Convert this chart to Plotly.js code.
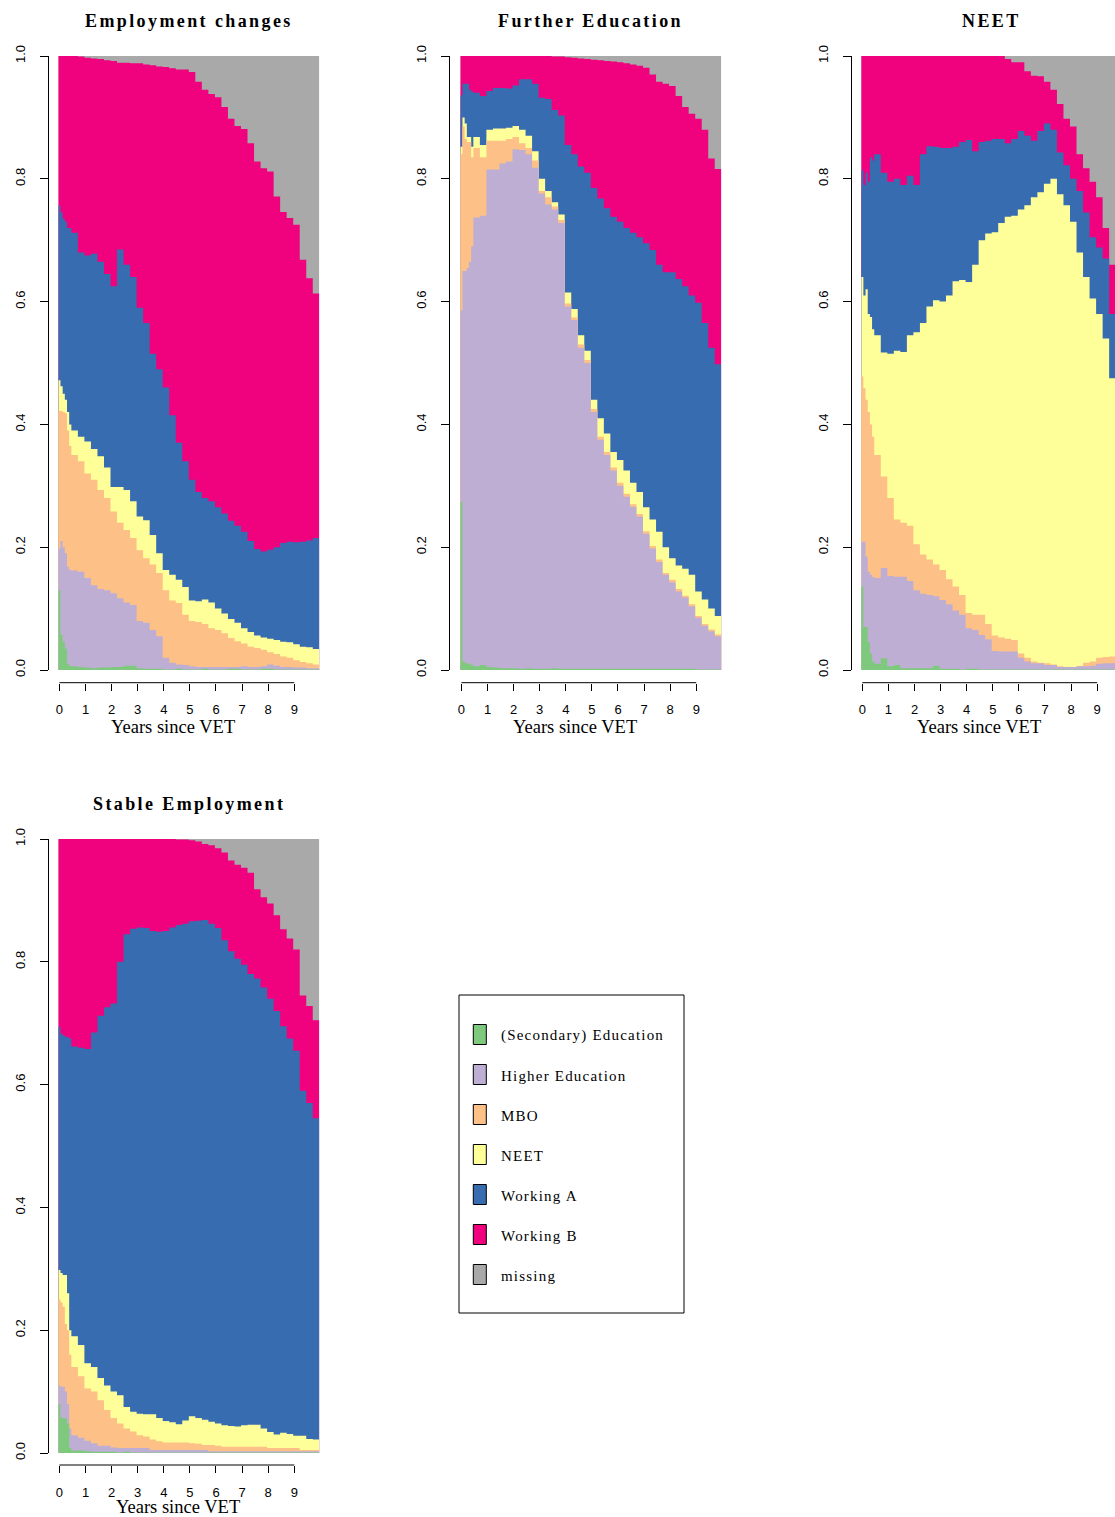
<!DOCTYPE html>
<html>
<head>
<meta charset="utf-8">
<script src="https://cdn.plot.ly/plotly-3.0.1.min.js"></script>
<style>
  html, body { margin: 0; padding: 0; overflow: hidden; background: #ffffff; }
</style>
</head>
<body>
<div id="chart"></div>
<script>
// ---- time grid: start month of each step (monthly at first, then quarterly) ----
const months = [0, 1, 2, 3, 4, 5, 6, 9, 12, 15, 18, 21, 24, 27, 30, 33, 36, 39, 42, 45,
  48, 51, 54, 57, 60, 63, 66, 69, 72, 75, 78, 81, 84, 87, 90, 93, 96, 99, 102, 105,
  108, 111, 114, 117];
const monthEnd = 120;
const yearTicks = [0, 1, 2, 3, 4, 5, 6, 7, 8, 9];
const shareTicks = [0, 0.2, 0.4, 0.6, 0.8, 1];

// ---- states and colours ----
const states = ['(Secondary) Education', 'Higher Education', 'MBO', 'NEET', 'Working A', 'Working B', 'missing'];
const stateColors = ['#7FC97F', '#BEAED4', '#FDC086', '#FFFF99', '#386CB0', '#F0027F', '#A9A9A9'];

// Each array: cumulative share at the upper edge of that state's band
// (states stacked bottom-up in the order above; "missing" fills up to 1).

// Employment changes
const empChg_edu = [0.13, 0.057, 0.046, 0.035, 0.01, 0.006,
  0.006, 0.005, 0.004, 0.003, 0.004, 0.004, 0.005, 0.005, 0.007, 0.007,
  0.003, 0.002, 0.002, 0.002, 0.001, 0.001, 0.002, 0.001, 0.001, 0.001,
  0.002, 0.001, 0.001, 0.001, 0.002, 0.002, 0.001, 0.001, 0.001, 0.002,
  0.002, 0.001, 0.001, 0.001, 0.001, 0.001, 0.001, 0.001];
const empChg_higher = [0.198, 0.21, 0.2, 0.19, 0.168, 0.163,
  0.162, 0.16, 0.15, 0.138, 0.132, 0.13, 0.125, 0.117, 0.11, 0.106,
  0.08, 0.077, 0.065, 0.055, 0.02, 0.012, 0.009, 0.008, 0.006, 0.005,
  0.005, 0.005, 0.005, 0.005, 0.005, 0.005, 0.006, 0.005, 0.005, 0.006,
  0.009, 0.007, 0.005, 0.005, 0.004, 0.004, 0.003, 0.003];
const empChg_mbo = [0.422, 0.422, 0.42, 0.418, 0.39, 0.365,
  0.35, 0.34, 0.32, 0.31, 0.293, 0.28, 0.258, 0.24, 0.228, 0.215,
  0.195, 0.182, 0.172, 0.158, 0.13, 0.113, 0.109, 0.09, 0.08, 0.078,
  0.075, 0.068, 0.065, 0.06, 0.052, 0.047, 0.043, 0.038, 0.036, 0.033,
  0.029, 0.026, 0.022, 0.02, 0.016, 0.013, 0.011, 0.009];
const empChg_neet = [0.472, 0.462, 0.45, 0.44, 0.42, 0.4,
  0.39, 0.38, 0.372, 0.36, 0.348, 0.33, 0.298, 0.298, 0.293, 0.275,
  0.25, 0.244, 0.22, 0.19, 0.163, 0.155, 0.147, 0.135, 0.113, 0.112,
  0.115, 0.11, 0.1, 0.092, 0.083, 0.077, 0.068, 0.062, 0.056, 0.053,
  0.051, 0.049, 0.046, 0.045, 0.042, 0.038, 0.037, 0.034];
const empChg_workA = [0.756, 0.745, 0.735, 0.73, 0.72, 0.72,
  0.712, 0.68, 0.675, 0.678, 0.665, 0.645, 0.625, 0.685, 0.66, 0.64,
  0.59, 0.565, 0.515, 0.49, 0.46, 0.415, 0.37, 0.34, 0.31, 0.29,
  0.28, 0.275, 0.265, 0.255, 0.243, 0.235, 0.225, 0.21, 0.197, 0.193,
  0.196, 0.2, 0.207, 0.209, 0.208, 0.209, 0.211, 0.215];
const empChg_workB = [1, 1, 1, 1, 1, 1,
  1.0, 0.999, 0.997, 0.996, 0.995, 0.993, 0.992, 0.989, 0.989, 0.988,
  0.988, 0.986, 0.985, 0.983, 0.982, 0.98, 0.978, 0.978, 0.974, 0.958,
  0.945, 0.938, 0.933, 0.917, 0.898, 0.886, 0.881, 0.858, 0.828, 0.817,
  0.812, 0.771, 0.746, 0.736, 0.725, 0.668, 0.638, 0.613];

// Further Education
const furtherEdu_edu = [0.274, 0.014, 0.012, 0.01, 0.01, 0.008,
  0.006, 0.008, 0.005, 0.004, 0.003, 0.003, 0.003, 0.002, 0.003, 0.002,
  0.002, 0.002, 0.003, 0.002, 0.002, 0.002, 0.002, 0.002, 0.002, 0.002,
  0.002, 0.002, 0.002, 0.002, 0.002, 0.002, 0.002, 0.002, 0.002, 0.002,
  0.002, 0.002, 0.002, 0.002, 0.001, 0.001, 0.001, 0.001];
const furtherEdu_higher = [0.586, 0.65, 0.65, 0.655, 0.665, 0.69,
  0.737, 0.74, 0.815, 0.815, 0.825, 0.828, 0.848, 0.847, 0.84, 0.818,
  0.776, 0.758, 0.75, 0.728, 0.592, 0.57, 0.525, 0.5, 0.42, 0.375,
  0.35, 0.325, 0.3, 0.282, 0.266, 0.25, 0.222, 0.198, 0.176, 0.155,
  0.143, 0.128, 0.118, 0.104, 0.085, 0.072, 0.063, 0.055];
const furtherEdu_mbo = [0.84, 0.885, 0.865, 0.86, 0.86, 0.835,
  0.85, 0.835, 0.862, 0.862, 0.862, 0.865, 0.868, 0.858, 0.85, 0.83,
  0.78, 0.77, 0.755, 0.733, 0.597, 0.574, 0.53, 0.505, 0.425, 0.38,
  0.355, 0.33, 0.305, 0.287, 0.27, 0.254, 0.226, 0.202, 0.18, 0.158,
  0.147, 0.132, 0.121, 0.107, 0.088, 0.075, 0.066, 0.058];
const furtherEdu_neet = [0.852, 0.9, 0.89, 0.868, 0.868, 0.852,
  0.868, 0.855, 0.88, 0.882, 0.882, 0.883, 0.886, 0.88, 0.87, 0.845,
  0.8, 0.78, 0.762, 0.742, 0.615, 0.588, 0.545, 0.52, 0.44, 0.41,
  0.385, 0.355, 0.342, 0.325, 0.305, 0.29, 0.265, 0.245, 0.225, 0.2,
  0.182, 0.17, 0.165, 0.155, 0.128, 0.115, 0.1, 0.088];
const furtherEdu_workA = [0.936, 0.955, 0.955, 0.955, 0.945, 0.942,
  0.94, 0.935, 0.943, 0.948, 0.948, 0.947, 0.952, 0.962, 0.962, 0.955,
  0.932, 0.93, 0.912, 0.903, 0.855, 0.84, 0.82, 0.81, 0.785, 0.768,
  0.752, 0.738, 0.73, 0.72, 0.712, 0.705, 0.695, 0.684, 0.66, 0.648,
  0.648, 0.637, 0.625, 0.61, 0.598, 0.565, 0.525, 0.498];
const furtherEdu_workB = [1, 1, 1, 1, 1, 1,
  1, 1, 1, 1, 1, 1, 1, 1, 1, 1,
  1, 1, 0.999, 0.999, 0.998, 0.997, 0.996, 0.995, 0.994, 0.993,
  0.992, 0.991, 0.99, 0.988, 0.986, 0.984, 0.981, 0.97, 0.958, 0.955,
  0.951, 0.935, 0.917, 0.906, 0.898, 0.88, 0.833, 0.816];

// NEET
const neetPath_edu = [0.136, 0.07, 0.07, 0.046, 0.027, 0.014,
  0.01, 0.019, 0.006, 0.008, 0.003, 0.003, 0.003, 0.003, 0.003, 0.007,
  0.002, 0.002, 0.002, 0.001, 0.002, 0.002, 0.001, 0.001, 0.001, 0.001,
  0.001, 0.001, 0.001, 0.001, 0.001, 0.001, 0.001, 0.001, 0.001, 0.001,
  0.001, 0.001, 0.001, 0.001, 0.001, 0.001, 0.001, 0.001];
const neetPath_higher = [0.209, 0.209, 0.185, 0.16, 0.155, 0.152,
  0.15, 0.166, 0.153, 0.152, 0.152, 0.145, 0.13, 0.124, 0.122, 0.12,
  0.114, 0.107, 0.097, 0.09, 0.068, 0.065, 0.057, 0.05, 0.031, 0.03,
  0.03, 0.03, 0.02, 0.014, 0.011, 0.011, 0.008, 0.008, 0.005, 0.005,
  0.005, 0.006, 0.006, 0.007, 0.01, 0.011, 0.011, 0.011];
const neetPath_mbo = [0.478, 0.459, 0.44, 0.42, 0.4, 0.38,
  0.35, 0.315, 0.28, 0.245, 0.24, 0.235, 0.205, 0.188, 0.18, 0.172,
  0.163, 0.148, 0.136, 0.122, 0.093, 0.09, 0.09, 0.075, 0.056, 0.053,
  0.051, 0.049, 0.027, 0.02, 0.014, 0.012, 0.011, 0.009, 0.006, 0.005,
  0.005, 0.006, 0.012, 0.014, 0.02, 0.021, 0.022, 0.022];
const neetPath_neet = [0.64, 0.61, 0.62, 0.58, 0.575, 0.555,
  0.545, 0.517, 0.515, 0.52, 0.518, 0.545, 0.55, 0.565, 0.592, 0.602,
  0.6, 0.61, 0.633, 0.635, 0.632, 0.66, 0.7, 0.711, 0.713, 0.728,
  0.738, 0.74, 0.75, 0.757, 0.77, 0.778, 0.792, 0.8, 0.775, 0.757,
  0.73, 0.68, 0.64, 0.605, 0.58, 0.54, 0.475, 0.46];
const neetPath_workA = [0.814, 0.79, 0.81, 0.795, 0.835, 0.83,
  0.84, 0.81, 0.795, 0.8, 0.79, 0.805, 0.79, 0.84, 0.853, 0.852,
  0.85, 0.85, 0.852, 0.86, 0.863, 0.845, 0.86, 0.862, 0.865, 0.865,
  0.858, 0.865, 0.878, 0.87, 0.862, 0.878, 0.89, 0.88, 0.843, 0.822,
  0.8, 0.78, 0.745, 0.705, 0.688, 0.67, 0.58, 0.56];
const neetPath_workB = [1, 1, 1, 1, 1, 1,
  1, 1, 1, 1, 1, 1, 1, 1, 1, 1,
  1, 1, 1, 1, 1, 1, 1, 1, 1, 1,
  0.995, 0.99, 0.99, 0.975, 0.968, 0.967, 0.958, 0.945, 0.922, 0.898,
  0.885, 0.84, 0.817, 0.795, 0.77, 0.72, 0.66, 0.64];

// Stable Employment
const stableEmp_edu = [0.08, 0.058, 0.057, 0.056, 0.048, 0.008,
  0.004, 0.004, 0.003, 0.002, 0.002, 0.002, 0.002, 0.001, 0.002, 0.001,
  0.001, 0.001, 0.001, 0.001, 0.001, 0.001, 0.001, 0.001, 0.001, 0.001,
  0.001, 0.001, 0.001, 0.001, 0.001, 0.001, 0.001, 0.001, 0.001, 0.001,
  0.001, 0.001, 0.001, 0.001, 0.001, 0.001, 0.001, 0.001];
const stableEmp_higher = [0.11, 0.108, 0.108, 0.1, 0.08, 0.04,
  0.029, 0.025, 0.02, 0.016, 0.012, 0.012, 0.009, 0.008, 0.008, 0.008,
  0.008, 0.008, 0.005, 0.005, 0.005, 0.005, 0.005, 0.005, 0.005, 0.005,
  0.005, 0.003, 0.003, 0.003, 0.003, 0.003, 0.003, 0.003, 0.003, 0.003,
  0.003, 0.003, 0.003, 0.003, 0.003, 0.003, 0.003, 0.003];
const stableEmp_mbo = [0.25, 0.245, 0.238, 0.21, 0.2, 0.16,
  0.14, 0.125, 0.105, 0.1, 0.086, 0.07, 0.057, 0.048, 0.04, 0.035,
  0.029, 0.027, 0.022, 0.019, 0.017, 0.017, 0.017, 0.017, 0.016, 0.015,
  0.013, 0.013, 0.012, 0.01, 0.01, 0.01, 0.01, 0.01, 0.01, 0.01,
  0.008, 0.008, 0.008, 0.008, 0.008, 0.005, 0.005, 0.005];
const stableEmp_neet = [0.298, 0.293, 0.29, 0.29, 0.26, 0.2,
  0.19, 0.176, 0.146, 0.14, 0.122, 0.11, 0.1, 0.094, 0.075, 0.067,
  0.064, 0.063, 0.063, 0.057, 0.052, 0.05, 0.047, 0.053, 0.06, 0.057,
  0.054, 0.051, 0.048, 0.045, 0.044, 0.043, 0.045, 0.046, 0.046, 0.04,
  0.034, 0.03, 0.033, 0.031, 0.028, 0.028, 0.023, 0.022];
const stableEmp_workA = [0.694, 0.683, 0.68, 0.678, 0.677, 0.675,
  0.662, 0.66, 0.658, 0.685, 0.712, 0.726, 0.732, 0.8, 0.845, 0.854,
  0.856, 0.855, 0.85, 0.849, 0.85, 0.856, 0.86, 0.862, 0.866, 0.867,
  0.868, 0.862, 0.855, 0.835, 0.817, 0.805, 0.795, 0.78, 0.773, 0.758,
  0.74, 0.72, 0.695, 0.675, 0.655, 0.59, 0.57, 0.545];
const stableEmp_workB = [1, 1, 1, 1, 1, 1,
  1, 1, 1, 1, 1, 1, 1, 1, 1, 1,
  1, 1, 1, 1, 1, 1, 0.999, 0.999, 0.998, 0.996,
  0.992, 0.99, 0.985, 0.978, 0.965, 0.958, 0.953, 0.945, 0.918, 0.905,
  0.895, 0.876, 0.853, 0.838, 0.82, 0.745, 0.728, 0.705];

// ---- page geometry (pixels) ----
const W = 1130, H = 1517;
const PLOT_W = 261, PLOT_H = 614;
const fx = px => px / W;
const fy = py => 1 - py / H;

const panels = [
  { title: 'Employment changes', levels: [empChg_edu, empChg_higher, empChg_mbo, empChg_neet, empChg_workA, empChg_workB],
    left: 58.3, top: 56, yAxisX: 48.3, xAxisY: 682.7, xlabX: 173.3, xlabY: 727 },
  { title: 'Further Education', levels: [furtherEdu_edu, furtherEdu_higher, furtherEdu_mbo, furtherEdu_neet, furtherEdu_workA, furtherEdu_workB],
    left: 460.3, top: 56, yAxisX: 449.3, xAxisY: 682.7, xlabX: 575.3, xlabY: 727 },
  { title: 'NEET', levels: [neetPath_edu, neetPath_higher, neetPath_mbo, neetPath_neet, neetPath_workA, neetPath_workB],
    left: 861.2, top: 56, yAxisX: 851, xAxisY: 682.7, xlabX: 978.8, xlabY: 727 },
  { title: 'Stable Employment', levels: [stableEmp_edu, stableEmp_higher, stableEmp_mbo, stableEmp_neet, stableEmp_workA, stableEmp_workB],
    left: 58.3, top: 839, yAxisX: 48.3, xAxisY: 1465, xlabX: 177.5, xlabY: 1506.5 }
];

const sansFont = 'Liberation Sans, Arial, Helvetica, sans-serif';
const serifFont = 'Liberation Serif, Times New Roman, serif';

const stepX = months.concat([monthEnd]);
const stepY = v => v.concat([v[v.length - 1]]);

const traces = [];
const layout = {
  width: W, height: H,
  margin: { l: 0, r: 0, t: 0, b: 0, pad: 0 },
  paper_bgcolor: '#ffffff', plot_bgcolor: '#ffffff',
  showlegend: false,
  shapes: [], annotations: []
};

panels.forEach((p, i) => {
  const s = i === 0 ? '' : String(i + 1);
  // top band ("missing") reaches the full share of 1
  const allLevels = p.levels.concat([months.map(() => 1)]);
  // draw from the top state down, each filled to zero so bands never show seams
  for (let k = allLevels.length - 1; k >= 0; k--) {
    traces.push({
      type: 'scatter', mode: 'lines',
      x: stepX, y: stepY(allLevels[k]),
      xaxis: 'x' + s, yaxis: 'y' + s,
      line: { shape: 'hv', width: 0, color: stateColors[k] },
      fill: 'tozeroy', fillcolor: stateColors[k],
      name: states[k], hoverinfo: 'skip', showlegend: false
    });
  }

  const tickPos = yearTicks.map(k => 12 * k + 0.5);
  layout['xaxis' + s] = {
    domain: [fx(p.left), fx(p.left + PLOT_W)], range: [0, monthEnd],
    anchor: 'free', position: fy(p.xAxisY),
    showline: false, showgrid: false, zeroline: false,
    ticks: 'outside', ticklen: 7, tickwidth: 1, tickcolor: '#000',
    tickvals: tickPos, ticktext: yearTicks.map(String),
    tickfont: { family: sansFont, size: 13, color: '#000' },
    ticklabelstandoff: 8, fixedrange: true
  };
  layout['yaxis' + s] = {
    domain: [fy(p.top + PLOT_H), fy(p.top)], range: [0, 1],
    anchor: 'free', position: fx(p.yAxisX),
    showline: true, linecolor: '#000', linewidth: 1,
    showgrid: false, zeroline: false,
    ticks: 'outside', ticklen: 8, tickwidth: 1, tickcolor: '#000',
    tickvals: shareTicks, ticktext: shareTicks.map(v => v.toFixed(1)),
    tickangle: -90,
    tickfont: { family: sansFont, size: 13, color: '#000' },
    ticklabelstandoff: 10, fixedrange: true
  };

  // x axis line spans the first to the last labelled year only
  layout.shapes.push({
    type: 'line', xref: 'x' + s, yref: 'paper',
    x0: tickPos[0], x1: tickPos[tickPos.length - 1],
    y0: fy(p.xAxisY), y1: fy(p.xAxisY),
    line: { color: '#000', width: 1 }
  });

  layout.annotations.push({
    xref: 'paper', yref: 'paper', x: fx(p.left + PLOT_W / 2), y: fy(p.top - 35),
    xanchor: 'center', yanchor: 'middle', showarrow: false,
    text: '<span style="letter-spacing:2.4px">' + p.title + '</span>',
    font: { family: serifFont, size: 18, weight: 700, color: '#000' }
  });
  layout.annotations.push({
    xref: 'paper', yref: 'paper', x: fx(p.xlabX), y: fy(p.xlabY),
    xanchor: 'center', yanchor: 'middle', showarrow: false,
    text: 'Years since VET',
    font: { family: serifFont, size: 18.5, color: '#000' }
  });
});

// ---- legend box ----
const legendBox = { x0: 459, x1: 684, y0: 995, y1: 1313 };
layout.shapes.push({
  type: 'rect', xref: 'paper', yref: 'paper',
  x0: fx(legendBox.x0), x1: fx(legendBox.x1), y0: fy(legendBox.y1), y1: fy(legendBox.y0),
  line: { color: '#000', width: 1 }, fillcolor: 'rgba(0,0,0,0)'
});
states.forEach((name, k) => {
  const cy = 1034.5 + 40 * k;
  layout.shapes.push({
    type: 'rect', xref: 'paper', yref: 'paper',
    x0: fx(473.3), x1: fx(486.3), y0: fy(cy + 10), y1: fy(cy - 10),
    line: { color: '#000', width: 1 }, fillcolor: stateColors[k]
  });
  layout.annotations.push({
    xref: 'paper', yref: 'paper', x: fx(498.7), y: fy(cy + 1),
    xanchor: 'left', yanchor: 'middle', showarrow: false,
    text: '<span style="letter-spacing:1.2px">' + name + '</span>',
    font: { family: serifFont, size: 15, color: '#000' }
  });
});

Plotly.newPlot('chart', traces, layout, { displayModeBar: false, staticPlot: true });
</script>
</body>
</html>
